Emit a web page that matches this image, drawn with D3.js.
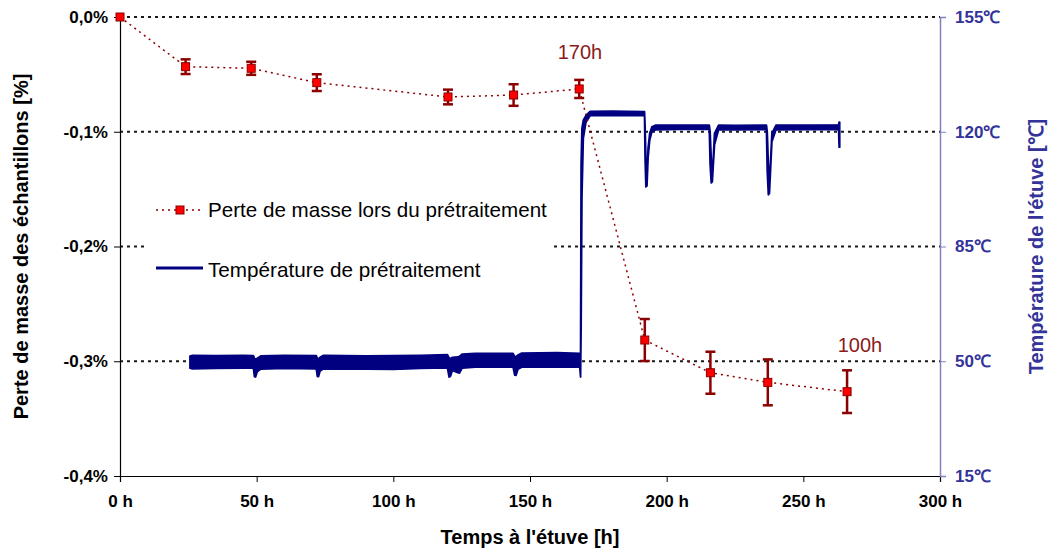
<!DOCTYPE html>
<html>
<head>
<meta charset="utf-8">
<script src="https://cdn.jsdelivr.net/npm/d3@7/dist/d3.min.js"></script>
<style>
  html, body { margin: 0; padding: 0; background: #fff; }
  svg { display: block; font-family: "Liberation Sans", Arial, sans-serif; }
</style>
</head>
<body>
<svg id="chart" width="1048" height="552"></svg>
<script>
// ---- Data ----
const massTime   = [0, 24, 48, 72, 120, 144, 168, 192, 216, 237, 266];
const massLoss   = [0, -0.0433, -0.0447, -0.0572, -0.0697, -0.068, -0.0627, -0.2815, -0.310, -0.3184, -0.3265];
const massError  = [0, 0.0064, 0.0057, 0.0073, 0.0064, 0.0094, 0.0079, 0.0183, 0.0183, 0.020, 0.0186];

// oven temperature record: time [h], lower and upper envelope of the noisy trace [°C]
const tempTime = [25.6, 26.5, 35, 45, 48.8, 49.2, 49.6, 50.2, 51.5, 60, 71.8, 72.2, 72.6, 73.2, 74.5, 90, 100, 110,
  119.8, 120.4, 120.9, 121.6, 123.6, 124.2, 125.2, 130, 143.8, 144.4, 144.9, 145.6, 147, 160, 168.2, 168.5, 168.7,
  169.0, 169.5, 170.5, 172, 180, 191.9, 192.1, 192.4, 192.8, 193.2, 193.8, 194.6, 196, 205, 215.6, 215.9, 216.3, 216.7, 217.5,
  219, 225, 236.5, 236.8, 237.2, 237.6, 238.5, 240, 262.9, 263.1, 263.3];
const tempLow  = [47.9, 47.7, 47.8, 47.9, 47.9, 45.3, 45.2, 46.8, 47.6, 47.8, 47.7, 45.4, 45.3, 47.0, 47.7, 47.6, 47.5, 47.8,
  48.0, 45.2, 45.4, 47.2, 46.5, 46.4, 47.9, 48.2, 48.2, 45.8, 45.7, 47.6, 48.2, 48.3, 48.2, 45.2, 60,
  100, 118, 123.0, 124.9, 125.0, 124.9, 112, 103.2, 103.5, 112, 117.5, 120.0, 120.6, 120.7, 120.7, 110, 104.4, 104.8, 116,
  120.6, 120.6, 120.7, 108, 100.8, 101.2, 117, 120.6, 120.7, 115.3, 115.3];
const tempHigh = [51.6, 51.8, 51.7, 51.8, 51.7, 50.9, 50.6, 50.9, 51.6, 51.8, 51.7, 50.9, 50.7, 51.2, 51.8, 51.6, 51.7, 51.8,
  52.0, 51.0, 50.8, 51.2, 51.3, 51.5, 52.2, 52.4, 52.4, 51.5, 51.4, 51.9, 52.5, 52.6, 52.4, 51.0, 110,
  121, 123.5, 125.0, 126.2, 126.3, 126.1, 122, 112, 106, 115, 119.5, 121.5, 122.0, 122.0, 122.0, 120, 112, 106, 119.5,
  122.0, 121.9, 122.0, 120, 110, 104, 119.5, 122.0, 122.1, 122.9, 122.9];

const timeTicks  = [0, 50, 100, 150, 200, 250, 300];
const massTicks  = [0, -0.1, -0.2, -0.3, -0.4];
const tempTicks  = [15, 50, 85, 120, 155];

const labels = {
  xTitle: "Temps à l'étuve [h]",
  yTitle: "Perte de masse des échantillons [%]",
  y2Title: "Température de l'étuve [℃]",
  legendMass: "Perte de masse lors du prétraitement",
  legendTemp: "Température de prétraitement",
  note1: "170h",
  note2: "100h"
};

// ---- Layout ----
const svg = d3.select("#chart");
const L = 120, R = 940, T = 17, B = 476;
const x  = d3.scaleLinear().domain([0, 300]).range([L, R]);
const yL = d3.scaleLinear().domain([-0.4, 0]).range([B, T]);
const yR = d3.scaleLinear().domain([15, 155]).range([B, T]);

const darkRed = "#8B0000";
const navy = "#000080";
const rightCol = "#333399";

const loc = d3.formatLocale({decimal: ",", thousands: " ", grouping: [3], currency: ["", ""], minus: "-"});

// gridlines
svg.append("g").selectAll("line").data(massTicks.filter(d => d !== -0.4)).join("line")
  .attr("x1", L).attr("x2", R)
  .attr("y1", d => yL(d)).attr("y2", d => yL(d))
  .attr("stroke", "#1a1a1a").attr("stroke-width", 2)
  .attr("stroke-dasharray", "3,4");

// left axis
const gL = svg.append("g").attr("transform", `translate(${L},0)`)
  .call(d3.axisLeft(yL).tickValues(massTicks).tickFormat(d => loc.format(".1f")(d) + "%").tickSize(6).tickPadding(6));
gL.select(".domain").attr("stroke", "#000").attr("stroke-width", 1.2);
gL.selectAll(".tick line").attr("stroke", "#000");
gL.selectAll("text").attr("font-size", 17).attr("font-weight", "bold").attr("fill", "#000")
  .attr("font-family", "Liberation Sans, Arial, sans-serif");

// bottom axis
const gB = svg.append("g").attr("transform", `translate(0,${B})`)
  .call(d3.axisBottom(x).tickValues(timeTicks).tickFormat(d => d + " h").tickSize(6).tickPadding(13));
gB.select(".domain").attr("stroke", "#000").attr("stroke-width", 1.2);
gB.selectAll(".tick line").attr("stroke", "#000");
gB.selectAll("text").attr("font-size", 17).attr("font-weight", "bold").attr("fill", "#000")
  .attr("font-family", "Liberation Sans, Arial, sans-serif");

// right axis
const gR = svg.append("g").attr("transform", `translate(${R},0)`)
  .call(d3.axisRight(yR).tickValues(tempTicks).tickFormat(d => d + "℃").tickSize(6).tickPadding(9));
gR.select(".domain").attr("stroke", "#8080C0").attr("stroke-width", 1.5);
gR.selectAll(".tick line").attr("stroke", "#8080C0");
gR.selectAll("text").attr("font-size", 17).attr("font-weight", "bold").attr("fill", rightCol)
  .attr("font-family", "Liberation Sans, Arial, sans-serif");

// axis titles
svg.append("text").attr("x", 530).attr("y", 544).attr("text-anchor", "middle")
  .attr("font-size", 20).attr("font-weight", "bold").text(labels.xTitle);
svg.append("text").attr("transform", `translate(28,${(T + B) / 2}) rotate(-90)`).attr("text-anchor", "middle")
  .attr("font-size", 20).attr("font-weight", "bold").text(labels.yTitle);
svg.append("text").attr("transform", `translate(1043,${(T + B) / 2}) rotate(-90)`).attr("text-anchor", "middle")
  .attr("font-size", 20).attr("font-weight", "bold").attr("fill", rightCol).text(labels.y2Title);

// legend background (hides gridline behind it)
svg.append("rect").attr("x", 148).attr("y", 188).attr("width", 405).attr("height", 102).attr("fill", "#fff");

// temperature series (noisy trace drawn as its envelope)
const tempData = tempTime.map((t, i) => ({t, lo: tempLow[i], hi: tempHigh[i]}));
svg.append("path").datum(tempData)
  .attr("d", d3.area().x(d => x(d.t)).y0(d => yR(d.lo)).y1(d => yR(d.hi)))
  .attr("fill", navy).attr("stroke", navy).attr("stroke-width", 1.8).attr("stroke-linejoin", "round");

// mass series
const massData = massTime.map((t, i) => ({t, v: massLoss[i], e: massError[i]}));
svg.append("path").datum(massData)
  .attr("d", d3.line().x(d => x(d.t)).y(d => yL(d.v)))
  .attr("fill", "none").attr("stroke", darkRed).attr("stroke-width", 1.5).attr("stroke-dasharray", "2,4");

const eb = svg.append("g").selectAll("g").data(massData.filter(d => d.e > 0)).join("g");
eb.append("line").attr("x1", d => x(d.t)).attr("x2", d => x(d.t))
  .attr("y1", d => yL(d.v - d.e)).attr("y2", d => yL(d.v + d.e))
  .attr("stroke", darkRed).attr("stroke-width", 2.5);
eb.append("line").attr("x1", d => x(d.t) - 5).attr("x2", d => x(d.t) + 5)
  .attr("y1", d => yL(d.v - d.e)).attr("y2", d => yL(d.v - d.e))
  .attr("stroke", darkRed).attr("stroke-width", 2.5);
eb.append("line").attr("x1", d => x(d.t) - 5).attr("x2", d => x(d.t) + 5)
  .attr("y1", d => yL(d.v + d.e)).attr("y2", d => yL(d.v + d.e))
  .attr("stroke", darkRed).attr("stroke-width", 2.5);

svg.append("g").selectAll("rect").data(massData).join("rect")
  .attr("x", d => x(d.t) - 4).attr("y", d => yL(d.v) - 4)
  .attr("width", 8).attr("height", 8)
  .attr("fill", "#FF0000").attr("stroke", darkRed).attr("stroke-width", 1);

// annotations
svg.append("text").attr("x", 580).attr("y", 59).attr("text-anchor", "middle")
  .attr("font-size", 20).attr("fill", "#8B1A1A").text(labels.note1);
svg.append("text").attr("x", 860).attr("y", 352).attr("text-anchor", "middle")
  .attr("font-size", 20).attr("fill", "#8B1A1A").text(labels.note2);

// legend
svg.append("line").attr("x1", 156).attr("x2", 204).attr("y1", 210).attr("y2", 210)
  .attr("stroke", darkRed).attr("stroke-width", 1.5).attr("stroke-dasharray", "2,4");
svg.append("rect").attr("x", 176).attr("y", 206).attr("width", 8).attr("height", 8)
  .attr("fill", "#FF0000").attr("stroke", darkRed);
svg.append("text").attr("x", 208).attr("y", 210).attr("dy", "0.35em")
  .attr("font-size", 20.6).attr("fill", "#000").text(labels.legendMass);
svg.append("line").attr("x1", 156).attr("x2", 203).attr("y1", 268).attr("y2", 268)
  .attr("stroke", navy).attr("stroke-width", 3);
svg.append("text").attr("x", 208).attr("y", 270).attr("dy", "0.35em")
  .attr("font-size", 20.7).attr("fill", "#000").text(labels.legendTemp);
</script>
</body>
</html>
